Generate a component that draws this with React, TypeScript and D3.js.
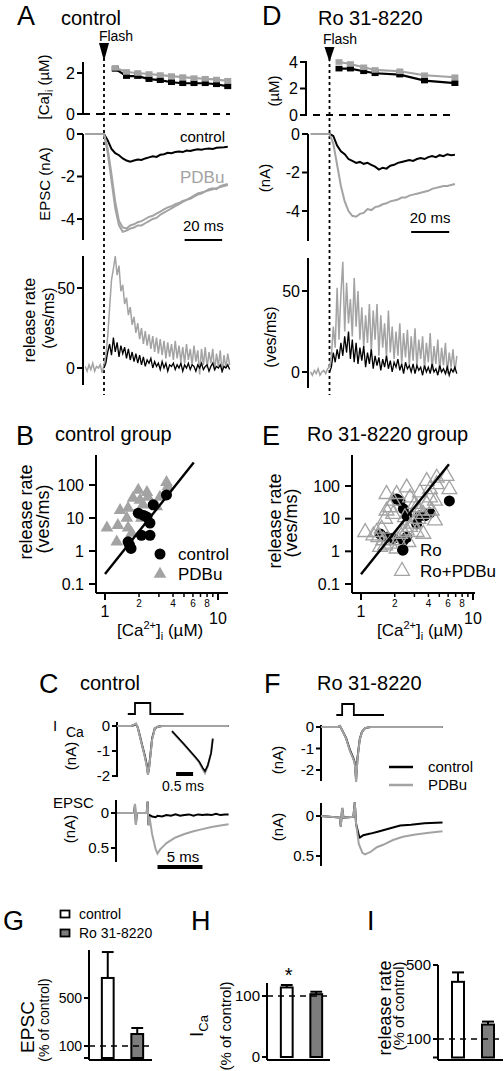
import React from 'react';
import * as d3 from 'd3';

const FONT = "'Liberation Sans', Arial, Helvetica, sans-serif";
const GRAY = '#a3a3a3';
const BARGRAY = '#7d7d7d';

// ---------- Panel A / D : [Ca]i (µM) ----------
const caTimesA = [6, 12, 18, 24, 30, 36, 42, 48, 54, 60, 66];
const caControlA = [2.2, 1.85, 1.85, 1.7, 1.65, 1.55, 1.5, 1.5, 1.5, 1.45, 1.35];
const caPdbuA = [2.25, 2.05, 2.0, 1.95, 1.9, 1.85, 1.8, 1.75, 1.72, 1.68, 1.62];
const caTimesD = [5, 11, 18, 24, 37, 50, 66];
const caControlD = [3.5, 3.5, 3.3, 3.15, 3.05, 2.6, 2.4];
const caPdbuD = [4.0, 3.85, 3.6, 3.4, 3.3, 3.0, 2.85];

// ---------- EPSC (nA), sampled every 2 ms ----------
const epscStart = -10; // ms (PDBu traces include the baseline)
const epscCtrlStart = 0;
const epscStep = 2;
const epscControlA = [0, -0.3, -0.7, -0.9, -1.0, -1.15, -1.25, -1.3, -1.25, -1.2, -1.22, -1.15, -1.1, -1.05, -1.08, -0.98, -0.95, -0.88, -0.9, -0.85, -0.82, -0.85, -0.78, -0.8, -0.75, -0.72, -0.74, -0.7, -0.68, -0.7, -0.65, -0.63, -0.62, -0.6];
const epscPdbuA1 = [0, 0, 0, 0, 0, 0, -0.9, -2.2, -3.5, -4.3, -4.6, -4.55, -4.45, -4.4, -4.3, -4.3, -4.2, -4.1, -4.0, -3.95, -3.8, -3.7, -3.6, -3.5, -3.4, -3.3, -3.2, -3.1, -3.05, -2.95, -2.85, -2.8, -2.7, -2.65, -2.6, -2.55, -2.5, -2.45, -2.4];
const epscPdbuA2 = [0, 0, 0, 0, 0, 0, -0.7, -1.9, -3.2, -4.1, -4.4, -4.45, -4.3, -4.25, -4.15, -4.1, -4.0, -3.9, -3.85, -3.75, -3.65, -3.55, -3.45, -3.4, -3.3, -3.25, -3.15, -3.1, -3.0, -2.9, -2.8, -2.75, -2.7, -2.6, -2.55, -2.6, -2.45, -2.4, -2.35];
const epscControlD = [0, -0.1, -0.6, -0.9, -1.05, -1.3, -1.4, -1.5, -1.45, -1.55, -1.5, -1.6, -1.7, -1.85, -1.75, -1.8, -1.65, -1.6, -1.5, -1.45, -1.4, -1.35, -1.4, -1.3, -1.25, -1.3, -1.2, -1.15, -1.2, -1.1, -1.15, -1.05, -1.1, -1.08];
const epscPdbuD = [0, 0, 0, 0, 0, 0, -0.5, -1.6, -2.7, -3.5, -4.0, -4.25, -4.3, -4.15, -4.1, -3.9, -3.95, -3.8, -3.75, -3.65, -3.6, -3.5, -3.45, -3.4, -3.3, -3.3, -3.2, -3.15, -3.1, -3.05, -3.0, -2.95, -2.85, -2.8, -2.75, -2.7, -2.7, -2.65, -2.6];

// ---------- release rate (ves/ms), sampled every 1 ms ----------
const relStart = -10;
const relCtrlStart = 0;
const relStep = 1;
const relPdbuA = [1, -2, 2, -1, 3, -2, 1, 0, 2, -3, 2, 8, 20, 38, 55, 62, 70, 58, 64, 48, 52, 40, 44, 33, 38, 27, 32, 22, 28, 18, 25, 15, 23, 14, 21, 12, 20, 10, 19, 9, 18, 8, 17, 6, 16, 7, 15, 5, 17, 6, 14, 4, 13, 3, 15, 5, 12, 2, 14, 4, 11, -4, 12, 2, 13, 0, 10, 3, 12, -2, 9, 1, 11, -3, 8, 0, 9, 2];
const relControlA = [0, 3, 10, 15, 8, 19, 10, 16, 7, 14, 9, 13, 6, 12, 5, 10, 4, 9, 3, 8, 2, 7, 1, 5, 3, 6, 0, 4, 1, 3, -1, 4, 0, 3, -2, 2, 1, 3, -1, 2, 0, 3, -2, 2, 0, 3, -1, 2, 1, -2, 2, 0, 3, -1, 1, 2, -2, 1, 3, -1, 1, 0, 2, -2, 1, 0, 2, -1];
const relPdbuD = [0, -2, 1, -1, 2, -2, 0, 1, -1, 2, 3, 10, 28, 15, 52, 20, 48, 68, 25, 55, 30, 45, 22, 58, 28, 50, 20, 40, 15, 35, 18, 42, 12, 38, 20, 42, 10, 35, 15, 30, 8, 38, 12, 28, 8, 25, 10, 30, 5, 24, 9, 26, 4, 22, 7, 27, 3, 20, 8, 22, 2, 18, 6, 24, 1, 16, 5, 20, 0, 15, 4, 18, -1, 12, 3, 14, 0, 10];
const relControlD = [0, 3, 12, 6, 14, 8, 18, 10, 22, 12, 25, 8, 20, 6, 18, 5, 15, 7, 16, 3, 12, 5, 14, 2, 10, 4, 9, 1, 8, 3, 10, 2, 7, 0, 6, 3, 8, 1, 5, -1, 6, 2, 4, 0, 5, -1, 4, 1, 3, -2, 4, 0, 3, -1, 5, 0, 2, -2, 4, 0, 2, -1, 3, -2, 2, 0, 3, -1];

// ---------- B / E scatter ----------
const bControlCa = [1.6, 1.7, 1.65, 2.1, 2.5, 2.5, 2.35, 1.97, 2.2, 2.67, 3.5];
const bControlRate = [1.9, 1.2, 1.5, 3, 3, 7, 10.7, 14, 12, 25, 50];
const bPdbuCa = [1.04, 1.27, 1.3, 1.36, 1.6, 1.56, 1.6, 1.72, 1.77, 1.97, 2.04, 2.17, 2.35, 2.4, 2.1, 2.87, 3.5, 3.6, 3.06];
const bPdbuRate = [5, 1.9, 6, 17, 20, 10, 5, 3.5, 40, 70, 35, 25, 60, 43, 10, 22, 120, 90, 43];
const eRoCa = [2.08, 2.23, 2.39, 2.56, 2.39, 2.35, 1.48, 1.69, 1.94, 3.14, 3.73, 4.13, 6.15, 2.56, 3.36];
const eRoRate = [40, 35, 20, 12.3, 2.15, 1.1, 3.4, 2.7, 2.5, 6.9, 12.3, 15, 35, 2.7, 12.3];
const eRoPdbuCa = [1.09, 1.29, 1.43, 1.58, 1.48, 1.64, 1.82, 2.08, 1.38, 1.53, 1.64, 1.69, 1.82, 1.94, 2.08, 1.69, 2.56, 2.74, 3.03, 3.36, 3.86, 4.13, 4.57, 4.28, 4.57, 3.6, 3.25, 2.93, 2.74, 2.56, 3.14, 3.6, 4.74, 5.8, 6.15, 4.74, 4.13, 2.65, 2.39, 3.14, 3.86, 3.36, 2.23, 1.94, 2.15, 2.47];
const eRoPdbuRate = [3.85, 3.05, 2.7, 2.15, 1.35, 1.5, 1.7, 1.2, 3.85, 4.9, 9.8, 17.5, 22, 35, 56, 56, 89, 44, 28, 63, 141, 79, 35, 17.5, 8.7, 13.8, 9.8, 6.9, 5.5, 4.3, 3.85, 3.4, 178, 200, 79, 112, 44, 1.9, 3.85, 22, 28, 17.5, 3.4, 13.8, 2.15, 11];
const fitCa = [1, 6.1];
const fitRateB = [0.2, 480];
const fitRateE = [0.2, 465];
const xMajor = [1, 10];
const xMinor = [2, 3, 4, 5, 6, 7, 8, 9];
const xMinorLabels = [2, 4, 6, 8];
const yLogTicks = [0.1, 1, 10, 100];

// ---------- C / F ----------
const pulseT_C = [1.2, 2.0, 2.0, 3.7, 3.7, 7.4];
const pulseT_F = [1.7, 2.35, 2.35, 3.65, 3.65, 7.0];
const pulseLevel = [0, 0, 1, 1, 0, 0];
const icaT_C = [0, 1.6, 1.9, 2.1, 2.3, 2.56, 2.8, 3.1, 3.3, 3.44, 3.55, 3.67, 3.9, 4.2, 4.55, 5, 12.4];
const icaPdbuC = [0, 0, 0.05, 0.1, -0.05, -0.45, -0.8, -1.25, -1.6, -1.95, -1.7, -1.35, -0.55, -0.1, -0.03, 0, 0];
const icaCtrlC = [0, 0, 0.04, 0.08, -0.05, -0.42, -0.78, -1.2, -1.55, -1.9, -1.7, -1.3, -0.5, -0.1, -0.03, 0, 0];
const insetT = [0, 0.35, 0.7, 0.8, 0.9, 0.97, 1.05, 1.15, 1.2];
const insetPdbu = [-0.42, -0.9, -1.4, -1.55, -1.8, -1.95, -1.7, -1.2, -0.65];
const insetCtrl = [-0.4, -0.88, -1.38, -1.53, -1.75, -1.88, -1.68, -1.22, -0.7];
const epscT_C = [0, 1.9, 2.0, 2.1, 2.2, 3.3, 3.4, 3.5, 3.6, 3.9, 4.3, 4.5, 4.8, 5.5, 6.5, 7.5, 8.5, 9.5, 10.5, 11.5, 12.4];
const epscPdbuC = [0, 0, -0.13, 0.17, 0, 0, -0.17, 0.18, 0.05, 0.3, 0.52, 0.58, 0.52, 0.43, 0.35, 0.3, 0.26, 0.23, 0.2, 0.18, 0.16];
const epscT_Cb = [0, 1.9, 2.0, 2.1, 2.2, 3.3, 3.4, 3.5, 3.6, 3.9, 4.3, 4.5, 5, 5.5, 6, 6.5, 7, 7.5, 8, 8.5, 9, 9.5, 10, 10.5, 11, 11.5, 12, 12.4];
const epscCtrlC = [0, 0, -0.12, 0.16, 0, 0, -0.16, 0.17, 0.03, 0.05, 0.06, 0.04, 0.05, 0.03, 0.04, 0.02, 0.04, 0.03, 0.02, 0.04, 0.02, 0.03, 0.02, 0.03, 0.01, 0.03, 0.02, 0.02];
const icaT_F = [0, 1.9, 2.1, 2.3, 2.8, 3.2, 3.55, 3.75, 3.9, 4.05, 4.3, 4.55, 4.9, 5.5, 13.5];
const icaPdbuF = [0, 0, 0.05, -0.1, -0.55, -1.1, -1.45, -1.7, -2.55, -1.5, -0.6, -0.23, -0.05, 0, 0];
const icaCtrlF = [0, 0, 0.04, -0.1, -0.53, -1.05, -1.4, -1.65, -2.45, -1.45, -0.58, -0.22, -0.05, 0, 0];
const epscT_F = [0, 2.1, 2.2, 2.35, 2.5, 3.6, 3.75, 3.9, 4.2, 4.6, 4.9, 5.5, 6.2, 6.9, 8, 9.1, 10.5, 12, 13.5];
const epscPdbuF = [0, 0.02, 0.13, -0.1, 0.02, 0.01, -0.17, 0.1, 0.35, 0.46, 0.48, 0.45, 0.39, 0.36, 0.3, 0.26, 0.23, 0.21, 0.19];
const epscT_Fb = [0, 2.1, 2.2, 2.35, 2.5, 3.6, 3.75, 3.9, 4.2, 4.33, 4.7, 5.5, 6.2, 7.5, 8.8, 10, 11.5, 13.5];
const epscCtrlF = [0, 0.02, 0.13, -0.1, 0.02, 0.01, -0.17, 0.1, 0.24, 0.27, 0.24, 0.22, 0.2, 0.16, 0.12, 0.11, 0.09, 0.08];

// ---------- G / H / I bars ----------
const groups = ['control', 'Ro 31-8220'];
const epscPct = [667, 200];
const epscSem = [216, 50];
const icaPct = [114, 103];
const icaSem = [4, 4];
const relPct = [409, 178];
const relSem = [51, 16];

type Sc = (v: number) => number;

function tracePath(xs: Sc, ys: Sc, start: number, step: number, vals: number[]) {
  return d3.line<number>().x((_, i) => xs(start + i * step)).y((d) => ys(d))(vals) || '';
}
function xyPath(xs: Sc, ys: Sc, t: number[], v: number[]) {
  return d3.line<number>().x((_, i) => xs(t[i])).y((d) => ys(d))(v) || '';
}

function VAxis({ x, y0, y1, ticks, fs = 15, len = 6, sw = 2 }: { x: number; y0: number; y1: number; ticks: { y: number; label?: string }[]; fs?: number; len?: number; sw?: number }) {
  return (
    <g>
      <line x1={x} x2={x} y1={y0} y2={y1} stroke="#000" strokeWidth={sw} />
      {ticks.map((t, i) => (
        <g key={i}>
          <line x1={x - len} x2={x} y1={t.y} y2={t.y} stroke="#000" strokeWidth={sw} />
          {t.label != null && (
            <text x={x - len - 2} y={t.y} dy="0.36em" textAnchor="end" fontSize={fs}>{t.label}</text>
          )}
        </g>
      ))}
    </g>
  );
}

function Rot({ x, y, fs, children }: { x: number; y: number; fs: number; children: React.ReactNode }) {
  return (
    <text transform={`translate(${x},${y}) rotate(-90)`} textAnchor="middle" dy="0.36em" fontSize={fs}>{children}</text>
  );
}

function Squares({ xs, ys, t, v, color }: { xs: Sc; ys: Sc; t: number[]; v: number[]; color: string }) {
  return (
    <g>
      <path d={xyPath(xs, ys, t, v)} fill="none" stroke={color} strokeWidth={2.2} />
      {v.map((d, i) => (
        <rect key={i} x={xs(t[i]) - 3.5} y={ys(d) - 2.8} width={7} height={5.6} fill={color} />
      ))}
    </g>
  );
}

function Scatter({ xs, ys, fitY, ctrlCa, ctrlRate, pCa, pRate, open, yAxisX, xEnd, yTickLabelX }: any) {
  const tri = d3.symbol().type(d3.symbolTriangle).size(70)() || '';
  const triOpen = d3.symbol().type(d3.symbolTriangle).size(95)() || '';
  const yTop = 455;
  const yBot = 593;
  return (
    <g>
      <line x1={yAxisX} x2={yAxisX} y1={yTop} y2={yBot} stroke="#000" strokeWidth={2} />
      <line x1={yAxisX} x2={xEnd} y1={yBot} y2={yBot} stroke="#000" strokeWidth={2} />
      {yLogTicks.map((t) => (
        <g key={t}>
          <line x1={yAxisX - 7} x2={yAxisX} y1={ys(t)} y2={ys(t)} stroke="#000" strokeWidth={2} />
          <text x={yTickLabelX} y={ys(t)} dy="0.36em" textAnchor="end" fontSize={16}>{t}</text>
        </g>
      ))}
      {xMajor.map((t) => (
        <line key={t} x1={xs(t)} x2={xs(t)} y1={yBot} y2={yBot + 7} stroke="#000" strokeWidth={2} />
      ))}
      {xMinor.map((t) => (
        <line key={t} x1={xs(t)} x2={xs(t)} y1={yBot} y2={yBot + 4} stroke="#000" strokeWidth={1.5} />
      ))}
      {xMinorLabels.map((t) => (
        <text key={t} x={xs(t)} y={yBot + 14} textAnchor="middle" fontSize={10}>{t}</text>
      ))}
      <text x={xs(1)} y={yBot + 24} textAnchor="middle" fontSize={16}>1</text>
      <text x={xs(10)} y={yBot + 31} textAnchor="middle" fontSize={16}>10</text>
      {open ? (
        <g>
          {ctrlCa.map((c: number, i: number) => (
            <circle key={'c' + i} cx={xs(c)} cy={ys(ctrlRate[i])} r={5.5} fill="#000" />
          ))}
          {pCa.map((c: number, i: number) => (
            <path key={'p' + i} d={triOpen} transform={`translate(${xs(c)},${ys(pRate[i])})`} fill="none" stroke={GRAY} strokeWidth={1.3} />
          ))}
        </g>
      ) : (
        <g>
          {pCa.map((c: number, i: number) => (
            <path key={'p' + i} d={tri} transform={`translate(${xs(c)},${ys(pRate[i])})`} fill={GRAY} />
          ))}
          {ctrlCa.map((c: number, i: number) => (
            <circle key={'c' + i} cx={xs(c)} cy={ys(ctrlRate[i])} r={5.5} fill="#000" />
          ))}
        </g>
      )}
      <path d={xyPath(xs, ys, fitCa, fitY)} stroke="#000" strokeWidth={2.4} fill="none" />
    </g>
  );
}

function Bars({ xb, ys, vals, sems, dashY, axisX, xEnd, baseY }: any) {
  const bw = xb.bandwidth();
  return (
    <g>
      <line x1={axisX} x2={xEnd} y1={baseY} y2={baseY} stroke="#000" strokeWidth={2} />
      {groups.map((g, i) => {
        const x = xb(g);
        const top = ys(vals[i]);
        const err = ys(vals[i] + sems[i]);
        return (
          <g key={g}>
            <line x1={x + bw / 2} x2={x + bw / 2} y1={top} y2={err} stroke="#000" strokeWidth={2} />
            <line x1={x} x2={x + bw} y1={err} y2={err} stroke="#000" strokeWidth={2} />
            <rect x={x} y={top} width={bw} height={ys(0) - top} fill={i === 0 ? '#fff' : BARGRAY} stroke="#000" strokeWidth={2} />
          </g>
        );
      })}
      <line x1={axisX} x2={xEnd - 3} y1={dashY} y2={dashY} stroke="#000" strokeWidth={1.6} strokeDasharray="6,5" />
    </g>
  );
}

export default function App() {
  // ----- A / D scales -----
  const xA = d3.scaleLinear().domain([0, 20]).range([104, 141.5]);
  const yCaA = d3.scaleLinear().domain([0, 2]).range([114, 73]);
  const yEpA = d3.scaleLinear().domain([0, -4]).range([134, 219]);
  const yRelA = d3.scaleLinear().domain([0, 50]).range([368, 288]);
  const xD = d3.scaleLinear().domain([0, 20]).range([329.5, 367.5]);
  const yCaD = d3.scaleLinear().domain([0, 4]).range([115, 62]);
  const yEpD = d3.scaleLinear().domain([0, -4]).range([134, 211]);
  const yRelD = d3.scaleLinear().domain([0, 50]).range([372, 291]);

  // ----- B / E -----
  const xB = d3.scaleLog().domain([1, 10]).range([105, 218]);
  const yB = d3.scaleLog().domain([0.1, 100]).range([584, 485]);
  const xE = d3.scaleLog().domain([1, 10]).range([361, 473]);
  const yE = d3.scaleLog().domain([0.1, 100]).range([584, 486]);

  // ----- C / F -----
  const xC = d3.scaleLinear().domain([0, 5]).range([117, 162]);
  const yPulseC = d3.scaleLinear().domain([0, 1]).range([714, 703]);
  const yIcaC = d3.scaleLinear().domain([0, -2]).range([726, 776]);
  const xIn = d3.scaleLinear().domain([0, 0.5]).range([172, 189]);
  const yIn = d3.scaleLinear().domain([-0.4, -1.95]).range([731, 773]);
  const yEpC = d3.scaleLinear().domain([0, 0.5]).range([813, 848]);
  const xF = d3.scaleLinear().domain([0, 5]).range([321, 366]);
  const yPulseF = d3.scaleLinear().domain([0, 1]).range([715, 704]);
  const yIcaF = d3.scaleLinear().domain([0, -2]).range([727, 770]);
  const yEpF = d3.scaleLinear().domain([0, 0.5]).range([816, 856]);

  // ----- G / H / I -----
  const xG = d3.scaleBand().domain(groups).range([93, 152]).paddingInner(0.6).paddingOuter(0.3);
  const yG = d3.scaleLinear().domain([0, 500]).range([1058, 998]);
  const xH = d3.scaleBand().domain(groups).range([272, 331]).paddingInner(0.6).paddingOuter(0.3);
  const yH = d3.scaleLinear().domain([0, 100]).range([1057, 996]);
  const xI = d3.scaleBand().domain(groups).range([443, 503]).paddingInner(0.6).paddingOuter(0.3);
  const yI = d3.scaleLinear().domain([100, 500]).range([1039, 965]);

  const flashTri = (cx: number, top: number, bot: number) => `M${cx - 5},${top}L${cx + 5},${top}L${cx},${bot}Z`;

  const caLabel = (
    <>
      [Ca<tspan dy="4" fontSize={11}>i</tspan><tspan dy="-4">]</tspan>
    </>
  );

  return (
    <div style={{ position: 'absolute', left: 0, top: 0 }}>
      <svg width={504} height={1071} style={{ display: 'block' }} fontFamily={FONT}>
        <rect width={504} height={1071} fill="#fff" />

        {/* ================= A ================= */}
        <text x={17} y={25} fontSize={27}>A</text>
        <text x={61} y={25} fontSize={20}>control</text>
        <text x={116} y={41} fontSize={14} textAnchor="middle">Flash</text>
        <path d={flashTri(xA(0), 43, 61)} fill="#000" />
        <line x1={xA(0)} x2={xA(0)} y1={58} y2={395} stroke="#000" strokeWidth={1.8} strokeDasharray="3,3" />
        {/* Ca */}
        <VAxis x={83} y0={62} y1={114} ticks={[{ y: yCaA(2), label: '2' }, { y: yCaA(0), label: '0' }]} fs={16} />
        <line x1={83} x2={230} y1={yCaA(0)} y2={yCaA(0)} stroke="#000" strokeWidth={1.8} strokeDasharray="7,6" />
        <Squares xs={xA} ys={yCaA} t={caTimesA} v={caControlA} color="#000" />
        <Squares xs={xA} ys={yCaA} t={caTimesA} v={caPdbuA} color={GRAY} />
        <Rot x={44} y={87} fs={15}>[Ca]<tspan dy="4" fontSize={10}>i</tspan><tspan dy="-4">  (µM)</tspan></Rot>
        {/* EPSC */}
        <VAxis x={83} y0={134} y1={240} ticks={[{ y: yEpA(0), label: '0' }, { y: yEpA(-2), label: '-2' }, { y: yEpA(-4), label: '-4' }]} fs={16} />
        <path d={tracePath(xA, yEpA, epscCtrlStart, epscStep, epscControlA)} fill="none" stroke="#000" strokeWidth={2} />
        <path d={tracePath(xA, yEpA, epscStart, epscStep, epscPdbuA2)} fill="none" stroke={GRAY} strokeWidth={2} />
        <path d={tracePath(xA, yEpA, epscStart, epscStep, epscPdbuA1)} fill="none" stroke={GRAY} strokeWidth={2} />
        <text x={180} y={142} fontSize={15}>control</text>
        <text x={180} y={183} fontSize={17} fill={GRAY}>PDBu</text>
        <line x1={xA(43)} x2={xA(63)} y1={240} y2={240} stroke="#000" strokeWidth={2.2} />
        <text x={xA(53)} y={231} fontSize={15} textAnchor="middle">20 ms</text>
        <Rot x={45} y={184} fs={15}>EPSC (nA)</Rot>
        {/* release */}
        <VAxis x={83} y0={256} y1={385} ticks={[{ y: yRelA(50), label: '50' }, { y: yRelA(0), label: '0' }]} fs={16} />
        <path d={tracePath(xA, yRelA, relStart, relStep, relPdbuA)} fill="none" stroke={GRAY} strokeWidth={1.5} />
        <path d={tracePath(xA, yRelA, relCtrlStart, relStep, relControlA)} fill="none" stroke="#000" strokeWidth={1.3} />
        <Rot x={29} y={320} fs={16}>release rate</Rot>
        <Rot x={48} y={318} fs={16}>(ves/ms)</Rot>

        {/* ================= D ================= */}
        <text x={262} y={25} fontSize={27}>D</text>
        <text x={318} y={25} fontSize={20}>Ro 31-8220</text>
        <text x={340} y={44} fontSize={14} textAnchor="middle">Flash</text>
        <path d={flashTri(xD(0), 47, 62)} fill="#000" />
        <line x1={xD(0)} x2={xD(0)} y1={58} y2={395} stroke="#000" strokeWidth={1.8} strokeDasharray="3,3" />
        <VAxis x={306} y0={61} y1={115} ticks={[{ y: yCaD(4), label: '4' }, { y: yCaD(2), label: '2' }, { y: yCaD(0), label: '0' }]} fs={16} />
        <line x1={300} x2={452} y1={yCaD(0)} y2={yCaD(0)} stroke="#000" strokeWidth={1.8} strokeDasharray="7,6" />
        <Squares xs={xD} ys={yCaD} t={caTimesD} v={caControlD} color="#000" />
        <Squares xs={xD} ys={yCaD} t={caTimesD} v={caPdbuD} color={GRAY} />
        <Rot x={274} y={91} fs={15}>(µM)</Rot>
        <VAxis x={308} y0={134} y1={241} ticks={[{ y: yEpD(0), label: '0' }, { y: yEpD(-2), label: '-2' }, { y: yEpD(-4), label: '-4' }]} fs={16} />
        <path d={tracePath(xD, yEpD, epscCtrlStart, epscStep, epscControlD)} fill="none" stroke="#000" strokeWidth={2} />
        <path d={tracePath(xD, yEpD, epscStart, epscStep, epscPdbuD)} fill="none" stroke={GRAY} strokeWidth={2} />
        <Rot x={265} y={178} fs={15}>(nA)</Rot>
        <line x1={xD(43)} x2={xD(63)} y1={232} y2={232} stroke="#000" strokeWidth={2.2} />
        <text x={xD(53)} y={223} fontSize={15} textAnchor="middle">20 ms</text>
        <VAxis x={308} y0={258} y1={388} ticks={[{ y: yRelD(50), label: '50' }, { y: yRelD(0), label: '0' }]} fs={16} />
        <path d={tracePath(xD, yRelD, relStart, relStep, relPdbuD)} fill="none" stroke={GRAY} strokeWidth={1.5} />
        <path d={tracePath(xD, yRelD, relCtrlStart, relStep, relControlD)} fill="none" stroke="#000" strokeWidth={1.3} />
        <Rot x={270} y={337} fs={16}>(ves/ms)</Rot>

        {/* ================= B ================= */}
        <text x={16} y={445} fontSize={27}>B</text>
        <text x={55} y={441} fontSize={20}>control group</text>
        <Scatter xs={xB} ys={yB} fitY={fitRateB} ctrlCa={bControlCa} ctrlRate={bControlRate} pCa={bPdbuCa} pRate={bPdbuRate} open={false} yAxisX={96} xEnd={228} yTickLabelX={84} />
        <circle cx={160} cy={554} r={5.5} fill="#000" />
        <text x={178} y={560} fontSize={17}>control</text>
        <path d={d3.symbol().type(d3.symbolTriangle).size(70)() || ''} transform="translate(160,574)" fill={GRAY} />
        <text x={178} y={580} fontSize={17}>PDBu</text>
        <Rot x={26} y={512} fs={18}>release rate</Rot>
        <Rot x={43} y={519} fs={18}>(ves/ms)</Rot>
        <text x={117} y={636} fontSize={17}>[Ca<tspan dy="-7" fontSize={11}>2+</tspan><tspan dy="7">]</tspan><tspan dy="4" fontSize={11}>i</tspan><tspan dy="-4">  (µM)</tspan></text>

        {/* ================= E ================= */}
        <text x={262} y={445} fontSize={27}>E</text>
        <text x={307} y={441} fontSize={20}>Ro 31-8220 group</text>
        <Scatter xs={xE} ys={yE} fitY={fitRateE} ctrlCa={eRoCa} ctrlRate={eRoRate} pCa={eRoPdbuCa} pRate={eRoPdbuRate} open={true} yAxisX={352} xEnd={475} yTickLabelX={340} />
        <circle cx={403} cy={550} r={5.5} fill="#000" />
        <text x={420} y={556} fontSize={17}>Ro</text>
        <path d={d3.symbol().type(d3.symbolTriangle).size(95)() || ''} transform="translate(402,571)" fill="none" stroke={GRAY} strokeWidth={1.3} />
        <text x={420} y={577} fontSize={17}>Ro+PDBu</text>
        <Rot x={275} y={521} fs={18}>release rate</Rot>
        <Rot x={291} y={523} fs={18}>(ves/ms)</Rot>
        <text x={377} y={636} fontSize={17}>[Ca<tspan dy="-7" fontSize={11}>2+</tspan><tspan dy="7">]</tspan><tspan dy="4" fontSize={11}>i</tspan><tspan dy="-4">  (µM)</tspan></text>

        {/* ================= C ================= */}
        <text x={39} y={693} fontSize={27}>C</text>
        <text x={80} y={690} fontSize={20}>control</text>
        <path d={xyPath(xC, yPulseC, pulseT_C, pulseLevel)} fill="none" stroke="#000" strokeWidth={1.8} />
        <VAxis x={117} y0={722} y1={777} ticks={[{ y: yIcaC(0), label: '0' }, { y: yIcaC(-1), label: '-1' }, { y: yIcaC(-2), label: '-2' }]} fs={15} len={5} />
        <path d={xyPath(xC, yIcaC, icaT_C, icaCtrlC)} fill="none" stroke="#000" strokeWidth={2} />
        <path d={xyPath(xC, yIcaC, icaT_C, icaPdbuC)} fill="none" stroke={GRAY} strokeWidth={2} />
        <path d={xyPath(xIn, yIn, insetT, insetPdbu)} fill="none" stroke={GRAY} strokeWidth={2.2} />
        <path d={xyPath(xIn, yIn, insetT, insetCtrl)} fill="none" stroke="#000" strokeWidth={1.6} />
        <line x1={xIn(0.12)} x2={xIn(0.62)} y1={774} y2={774} stroke="#000" strokeWidth={4} />
        <text x={183} y={791} fontSize={14} textAnchor="middle">0.5 ms</text>
        <text x={53} y={731} fontSize={15}>I</text>
        <text x={66} y={737} fontSize={14}>Ca</text>
        <Rot x={71} y={756} fs={15}>(nA)</Rot>
        <text x={53} y={808} fontSize={15}>EPSC</text>
        <VAxis x={116} y0={800} y1={862} ticks={[{ y: yEpC(0), label: '0' }, { y: yEpC(0.5), label: '0.5' }]} fs={15} len={5} />
        <path d={xyPath(xC, yEpC, epscT_Cb, epscCtrlC)} fill="none" stroke="#000" strokeWidth={2} />
        <path d={xyPath(xC, yEpC, epscT_C, epscPdbuC)} fill="none" stroke={GRAY} strokeWidth={2} />
        <Rot x={70} y={829} fs={15}>(nA)</Rot>
        <line x1={xC(4.5)} x2={xC(9.5)} y1={867} y2={867} stroke="#000" strokeWidth={4} />
        <text x={183} y={862} fontSize={15} textAnchor="middle">5 ms</text>

        {/* ================= F ================= */}
        <text x={264} y={693} fontSize={27}>F</text>
        <text x={317} y={690} fontSize={20}>Ro 31-8220</text>
        <path d={xyPath(xF, yPulseF, pulseT_F, pulseLevel)} fill="none" stroke="#000" strokeWidth={1.8} />
        <VAxis x={321} y0={725} y1={781} ticks={[{ y: yIcaF(0), label: '0' }, { y: yIcaF(-1), label: '-1' }, { y: yIcaF(-2), label: '-2' }]} fs={15} len={5} />
        <path d={xyPath(xF, yIcaF, icaT_F, icaCtrlF)} fill="none" stroke="#000" strokeWidth={2} />
        <path d={xyPath(xF, yIcaF, icaT_F, icaPdbuF)} fill="none" stroke={GRAY} strokeWidth={2} />
        <Rot x={278} y={760} fs={15}>(nA)</Rot>
        <line x1={389} x2={413} y1={767} y2={767} stroke="#000" strokeWidth={2.5} />
        <text x={428} y={772} fontSize={15}>control</text>
        <line x1={389} x2={413} y1={785} y2={785} stroke={GRAY} strokeWidth={2.5} />
        <text x={428} y={790} fontSize={15}>PDBu</text>
        <VAxis x={321} y0={803} y1={866} ticks={[{ y: yEpF(0), label: '0' }, { y: yEpF(0.5), label: '0.5' }]} fs={15} len={5} />
        <path d={xyPath(xF, yEpF, epscT_Fb, epscCtrlF)} fill="none" stroke="#000" strokeWidth={2} />
        <path d={xyPath(xF, yEpF, epscT_F, epscPdbuF)} fill="none" stroke={GRAY} strokeWidth={2} />
        <Rot x={278} y={827} fs={15}>(nA)</Rot>

        {/* ================= G ================= */}
        <text x={3} y={930} fontSize={27}>G</text>
        <rect x={60.5} y={910.5} width={9} height={7} fill="#fff" stroke="#000" strokeWidth={1.8} />
        <text x={79} y={919} fontSize={14}>control</text>
        <rect x={60.5} y={929.5} width={9} height={7} fill={BARGRAY} stroke="#000" strokeWidth={1.8} />
        <text x={79} y={938} fontSize={14}>Ro 31-8220</text>
        <VAxis x={89} y0={950} y1={1060} ticks={[{ y: yG(500), label: '500' }, { y: yG(100), label: '100' }, { y: yG(0) }]} fs={14} len={5} />
        <Bars xb={xG} ys={yG} vals={epscPct} sems={epscSem} dashY={yG(100)} axisX={89} xEnd={152} baseY={1060} />
        <Rot x={27} y={1027} fs={19}>EPSC</Rot>
        <Rot x={44} y={1020} fs={14}>(% of control)</Rot>

        {/* ================= H ================= */}
        <text x={191} y={930} fontSize={27}>H</text>
        <VAxis x={267} y0={983} y1={1060} ticks={[{ y: yH(100), label: '100' }, { y: yH(0), label: '0' }]} fs={15} len={5} />
        <Bars xb={xH} ys={yH} vals={icaPct} sems={icaSem} dashY={yH(100)} axisX={267} xEnd={330} baseY={1060} />
        <text x={(xH('control') || 0) + xH.bandwidth() / 2 + 2} y={982} fontSize={20} textAnchor="middle">*</text>
        <text transform="translate(196,1026) rotate(-90)" textAnchor="middle" dy="0.36em" fontSize={19}>I<tspan dy="5" fontSize={13}>Ca</tspan></text>
        <Rot x={226} y={1026} fs={15}>(% of control)</Rot>

        {/* ================= I ================= */}
        <text x={367} y={930} fontSize={27}>I</text>
        <VAxis x={438} y0={965} y1={1060} ticks={[{ y: yI(500), label: '500' }, { y: yI(100), label: '100' }, { y: yI(0) }]} fs={15} len={5} />
        <Bars xb={xI} ys={yI} vals={relPct} sems={relSem} dashY={yI(100)} axisX={438} xEnd={503} baseY={1060} />
        <Rot x={385} y={1008} fs={18}>release rate</Rot>
        <Rot x={399} y={1006} fs={15}>(% of control)</Rot>
      </svg>
    </div>
  );
}
